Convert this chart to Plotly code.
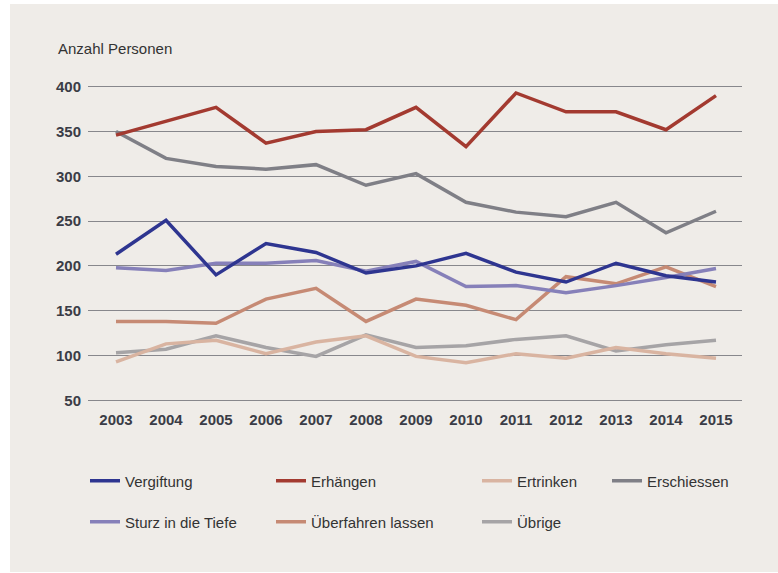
import plotly.graph_objects as go

# Jahre und Anzahl Personen je Methode
years = list(range(2003, 2016))

vergiftung = [213, 251, 190, 225, 215, 192, 200, 214, 193, 182, 203, 189, 182]
erhaengen = [346, 362, 377, 337, 350, 352, 377, 333, 393, 372, 372, 352, 390]
ertrinken = [93, 113, 117, 102, 115, 122, 99, 92, 102, 97, 109, 102, 97]
erschiessen = [350, 320, 311, 308, 313, 290, 303, 271, 260, 255, 271, 237, 261]
sturz = [198, 195, 203, 203, 206, 194, 205, 177, 178, 170, 178, 187, 197]
ueberfahren = [138, 138, 136, 163, 175, 138, 163, 156, 140, 188, 180, 199, 177]
uebrige = [103, 107, 122, 109, 99, 123, 109, 111, 118, 122, 105, 112, 117]

y_ticks = [50, 100, 150, 200, 250, 300, 350, 400]

BG = '#efece8'
TEXT = '#3a3c46'

# name, values, colour, legend position (col px, row)
series = [
    ('Vergiftung', vergiftung, '#2e3590', 88, 0),
    ('Erhängen', erhaengen, '#a33a30', 274, 0),
    ('Ertrinken', ertrinken, '#d9b4a1', 480, 0),
    ('Erschiessen', erschiessen, '#7f7f86', 610, 0),
    ('Sturz in die Tiefe', sturz, '#8680b9', 88, 1),
    ('Überfahren lassen', ueberfahren, '#c68a74', 274, 1),
    ('Übrige', uebrige, '#a6a4a6', 480, 1),
]

# plot area in px (for converting pixel positions to paper coords)
L, R, T, B = 88, 742, 84, 403
W, H = R - L, B - T


def px_x(x):
    return (x - L) / W


def px_y(y):
    return (B - y) / H


fig = go.Figure()

# draw order: lighter lines underneath
draw_order = ['Übrige', 'Ertrinken', 'Überfahren lassen', 'Erschiessen', 'Sturz in die Tiefe', 'Vergiftung', 'Erhängen']
legends = {}
for i, (name, vals, col, lx, row) in enumerate(series):
    key = 'legend' if i == 0 else f'legend{i + 1}'
    legends[key] = dict(
        x=px_x(lx - 3), y=px_y(481 + row * 41),
        xanchor='left', yanchor='middle',
        bgcolor='rgba(0,0,0,0)',
        font=dict(family='Liberation Sans, Arial, sans-serif', size=15, color='#333333'),
    )

for name in draw_order:
    i = [s[0] for s in series].index(name)
    _, vals, col, _, _ = series[i]
    key = 'legend' if i == 0 else f'legend{i + 1}'
    fig.add_trace(go.Scatter(
        x=years, y=vals, name=name, mode='lines',
        line=dict(color=col, width=3.5),
        legend=key,
    ))

fig.update_layout(
    width=778, height=573,
    margin=dict(l=L, r=778 - R, t=T, b=573 - B),
    paper_bgcolor='white',
    plot_bgcolor='rgba(0,0,0,0)',
    showlegend=True,
    font=dict(family='Liberation Sans, Arial, sans-serif', color=TEXT),
    xaxis=dict(
        range=[2002.44, 2015.52],
        tickvals=years,
        ticktext=[f'<b>{y}</b>' for y in years],
        tickfont=dict(size=15, color=TEXT),
        showgrid=False, zeroline=False, showline=False,
        ticks='', ticklabelstandoff=6,
    ),
    yaxis=dict(
        range=[47, 403],
        tickvals=y_ticks,
        ticktext=[f'<b>{v}</b>' for v in y_ticks],
        tickfont=dict(size=15, color=TEXT),
        showgrid=True, gridcolor='#87878c', gridwidth=1.3,
        zeroline=False, showline=False, ticks='', ticklabelstandoff=6,
    ),
    shapes=[dict(
        type='rect', xref='paper', yref='paper', layer='below',
        x0=px_x(10), x1=px_x(778), y0=px_y(572), y1=px_y(4),
        fillcolor=BG, line=dict(width=0),
    )],
    annotations=[dict(
        text='Anzahl Personen', xref='paper', yref='paper',
        x=px_x(56), y=px_y(48), xanchor='left', yanchor='middle',
        showarrow=False, font=dict(size=15, color='#333333'),
    )],
    **legends,
)

# page body has an 8px default margin, drop it so the figure sits at 0,0
fig.write_html(
    'out.html',
    config={'displayModeBar': False},
    post_script="document.body.style.margin='0px';",
)
